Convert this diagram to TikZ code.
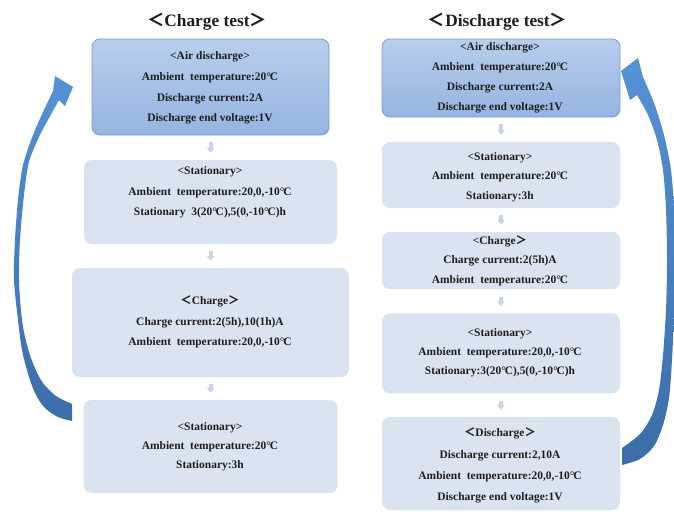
\documentclass[tikz,border=0pt]{standalone}
\usepackage{fontspec}
\setmainfont{Liberation Serif}
\newfontfamily\cjk{Noto Sans CJK SC}
\usetikzlibrary{arrows.meta}

\definecolor{airtop}{HTML}{B8CEEC}
\definecolor{airbot}{HTML}{95B4E1}
\definecolor{airline}{HTML}{7F9BC5}
\definecolor{restfill}{HTML}{DAE3F0}
\definecolor{pipecol}{HTML}{C9D4E4}
\definecolor{inkcol}{HTML}{1E1E1E}
\definecolor{looptop}{HTML}{5592D6}
\definecolor{loopbot}{HTML}{3B6DA8}

\newcommand\degC{°\kern-0.1em C}
\newcommand\lt{{\cjk ＜}}
\newcommand\gt{{\cjk ＞}}

\tikzset{
	airbox/.style={draw=airline, line width=0.6pt, rounded corners=6pt, top color=airtop, bottom color=airbot},
	restbox/.style={fill=restfill, rounded corners=6pt},
	boxtext/.style={align=center, text=inkcol, inner sep=0pt, font=\bfseries\fontsize{8.6}{#1}\selectfont},
	heading/.style={text=inkcol, inner sep=0pt, font=\bfseries\fontsize{13}{15}\selectfont},
	pipe/.style={draw=pipecol, line width=3pt, -{Triangle[width=5.5pt,length=3.5pt]}, shorten <=5.25pt, shorten >=5.25pt},
}

\begin{document}
\begin{tikzpicture}[x=0.75pt, y=-0.75pt]
			%%%%% START %%%%%
			\useasboundingbox (0,0) rectangle (674,511);
			
			% charge test
			\node[heading] (hdL) at (207,22) {\lt Charge test\gt};
			
			\node[airbox, minimum width=177.75pt, minimum height=72pt] (airL) at (210.5,87) {};
			\node[boxtext=15.5pt] (airLt) at (210,88) {<Air discharge>\\Ambient\ \ temperature:20\degC\\Discharge current:2A\\Discharge end voltage:1V};
			
			\node[restbox, minimum width=189.75pt, minimum height=63pt] (statL) at (210.5,202) {};
			\node[boxtext=15.3pt] (statLt) at (210,192.5) {<Stationary>\\Ambient\ \ temperature:20,0,-10\degC\\Stationary\ \ 3(20\degC),5(0,-10\degC)h};
			
			\node[restbox, minimum width=207.75pt, minimum height=81.75pt] (chgL) at (210.5,322.5) {};
			\node[boxtext=15.3pt] (chgLt) at (210,322) {\lt Charge\gt\\Charge current:2(5h),10(1h)A\\Ambient\ \ temperature:20,0,-10\degC};
			
			\node[restbox, minimum width=190.5pt, minimum height=69.75pt] (restL) at (210.5,446.5) {};
			\node[boxtext=14.25pt] (restLt) at (210,446.7) {<Stationary>\\Ambient\ \ temperature:20\degC\\Stationary:3h};
			
			\draw[pipe] (airL) -- (statL);
			\draw[pipe] (statL) -- (chgL);
			\draw[pipe] (chgL) -- (restL);
			
			% discharge test
			\node[heading] (hdR) at (497.5,22) {\lt Discharge test\gt};
			
			\node[airbox, minimum width=178.5pt, minimum height=58.5pt] (airR) at (501,78) {};
			\node[boxtext=15pt] (airRt) at (500,77.5) {<Air discharge>\\Ambient\ \ temperature:20\degC\\Discharge current:2A\\Discharge end voltage:1V};
			
			\node[restbox, minimum width=178.5pt, minimum height=49.5pt] (statR) at (501,175) {};
			\node[boxtext=14.7pt] (statRt) at (500,177) {<Stationary>\\Ambient\ \ temperature:20\degC\\Stationary:3h};
			
			\node[restbox, minimum width=178.5pt, minimum height=43.1pt] (chgR) at (501,260.5) {};
			\node[boxtext=14.7pt] (chgRt) at (500,260.5) {<Charge\gt\\Charge current:2(5h)A\\Ambient\ \ temperature:20\degC};
			
			\node[restbox, minimum width=178.5pt, minimum height=60pt] (restR) at (501,353.3) {};
			\node[boxtext=14.55pt] (restRt) at (500,352.7) {<Stationary>\\Ambient\ \ temperature:20,0,-10\degC\\Stationary:3(20\degC),5(0,-10\degC)h};
			
			\node[restbox, minimum width=178.5pt, minimum height=69.75pt] (disR) at (501,463.5) {};
			\node[boxtext=16pt] (disRt) at (500,465.5) {\lt Discharge\gt\\Discharge current:2,10A\\Ambient\ \ temperature:20,0,-10\degC\\Discharge end voltage:1V};
			
			\draw[pipe] (airR) -- (statR);
			\draw[pipe] (statR) -- (chgR);
			\draw[pipe] (chgR) -- (restR);
			\draw[pipe] (restR) -- (disR);
			
			% loop back arrows
			\shade[top color=looptop, bottom color=loopbot]
				plot[smooth] coordinates {(72,421) (58,417) (45,408) (36,395) (29,377) (22,350) (18,320) (14,280) (15,240) (18,200) (23,165) (33,135) (44,110) (53,91)}
				-- (55,76) -- (73,87) -- (65,106)
				-- plot[smooth] coordinates {(59,100) (49,118) (39,137) (29,162) (24,195) (20,240) (19,280) (22,320) (27,345) (34,366) (43,383) (56,396) (72,404)}
				-- cycle;
			
			\shade[top color=looptop, bottom color=loopbot]
				plot[smooth] coordinates {(622,465) (640,459) (654,446) (663,425) (669,398) (672,360) (674,310) (675,260) (674,210) (671,170) (664,135) (654,103) (643,77)}
				-- (638,58) -- (621,71) -- (630,100)
				-- plot[smooth] coordinates {(637,95) (648,115) (657,140) (663,170) (666,210) (667,260) (666,310) (663,355) (659,390) (652,415) (640,434) (622,448)}
				-- cycle;
			
			%%%%% END %%%%%
		\end{tikzpicture}
\end{document}
